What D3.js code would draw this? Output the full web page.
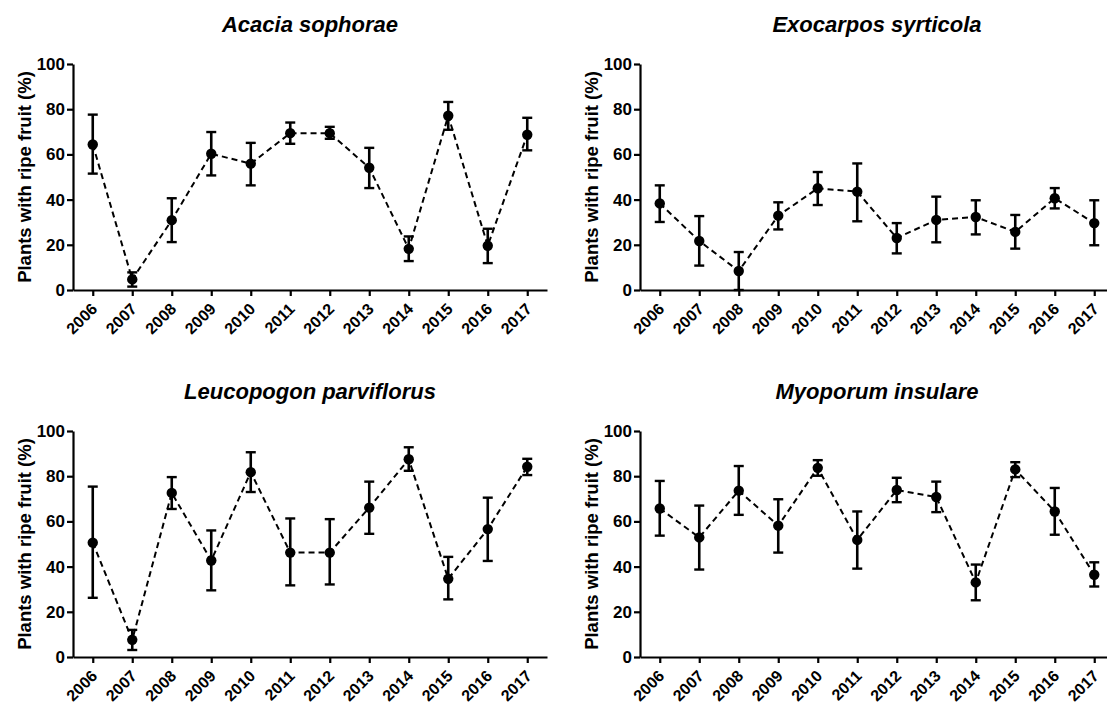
<!DOCTYPE html>
<html><head><meta charset="utf-8">
<script src="https://cdn.jsdelivr.net/npm/d3@7"></script>
<style>
html,body{margin:0;padding:0;background:#fff;}
svg{display:block;}
text{font-family:"Liberation Sans",Arial,Helvetica,sans-serif;font-weight:bold;fill:#000;}
</style></head>
<body>
<svg id="chart" width="1107" height="706"></svg>
<script>
const years = ["2006","2007","2008","2009","2010","2011","2012","2013","2014","2015","2016","2017"];
const yTicks = [0,20,40,60,80,100];
const yLabel = "Plants with ripe fruit (%)";
const species = ["Acacia sophorae","Exocarpos syrticola","Leucopogon parviflorus","Myoporum insulare"];

const acaciaMean  = [64.4, 4.7, 30.9, 60.3, 55.9, 69.4, 69.4, 54.1, 18.2, 77.1, 19.6, 68.7];
const acaciaUpper = [77.6, 7.8, 40.6, 69.9, 65.1, 74.1, 72.2, 62.9, 23.7, 83.2, 27.1, 76.2];
const acaciaLower = [51.5, 1.5, 21.2, 50.7, 46.3, 64.7, 66.9, 45.1, 12.8, 70.9, 11.9, 61.8];

const exoMean  = [38.3, 21.7, 8.4, 32.9, 45.0, 43.5, 23.0, 31.0, 32.3, 25.7, 40.6, 29.6];
const exoUpper = [46.3, 32.7, 16.8, 38.8, 52.2, 56.0, 29.6, 41.3, 39.7, 33.2, 45.1, 39.7];
const exoLower = [30.1, 10.8, 0.0, 26.8, 37.6, 30.4, 16.2, 21.1, 24.6, 18.3, 36.1, 19.8];

const leucoMean  = [50.6, 7.6, 72.6, 42.7, 81.8, 46.2, 46.2, 66.1, 87.5, 34.6, 56.6, 84.2];
const leucoUpper = [75.4, 12.0, 79.6, 56.0, 90.6, 61.3, 61.0, 77.6, 92.8, 44.3, 70.5, 87.7];
const leucoLower = [26.2, 3.1, 65.5, 29.5, 73.0, 31.7, 32.1, 54.5, 82.4, 25.5, 42.5, 80.5];

const myoMean  = [65.7, 52.9, 73.6, 58.1, 83.7, 51.8, 73.9, 70.8, 33.0, 83.0, 64.4, 36.4];
const myoUpper = [77.9, 67.0, 84.5, 69.8, 87.1, 64.4, 79.3, 77.6, 40.9, 86.2, 74.8, 41.9];
const myoLower = [53.7, 38.7, 62.9, 46.2, 80.2, 39.1, 68.5, 64.1, 25.1, 79.6, 54.1, 31.2];

const seriesMean  = [acaciaMean, exoMean, leucoMean, myoMean];
const seriesUpper = [acaciaUpper, exoUpper, leucoUpper, myoUpper];
const seriesLower = [acaciaLower, exoLower, leucoLower, myoLower];

// layout
const plotW = 474, plotH = 226;
const lefts = [73, 640, 73, 640];
const tops  = [64, 64, 431, 431];

const svg = d3.select("#chart");

species.forEach((name, i) => {
  const g = svg.append("g").attr("transform", `translate(${lefts[i]},${tops[i]})`);
  const x = d3.scalePoint().domain(years).range([0, plotW]).padding(0.5);
  const y = d3.scaleLinear().domain([0, 100]).range([plotH, 0]);

  // title
  g.append("text")
    .attr("x", plotW / 2).attr("y", -32)
    .attr("text-anchor", "middle")
    .style("font-size", "22px").style("font-style", "italic")
    .text(name);

  // y label
  g.append("text")
    .attr("transform", `translate(-42,${plotH / 2}) rotate(-90)`)
    .attr("text-anchor", "middle")
    .style("font-size", "18.5px")
    .text(yLabel);

  // y axis
  const ya = g.append("g").call(d3.axisLeft(y).tickValues(yTicks).tickSize(6).tickSizeOuter(0).tickPadding(2));
  ya.select(".domain").attr("stroke-width", 2.2).attr("stroke", "#000");
  ya.selectAll(".tick line").attr("stroke-width", 2.2).attr("stroke", "#000");
  ya.selectAll(".tick text").style("font-size", "17px").style("font-family", "'Liberation Sans',Arial,sans-serif").style("font-weight", "bold").attr("fill", "#000");

  // x axis
  const xa = g.append("g").attr("transform", `translate(0,${plotH})`)
    .call(d3.axisBottom(x).tickSize(6).tickSizeOuter(0));
  xa.select(".domain").attr("stroke-width", 2.2).attr("stroke", "#000");
  xa.selectAll(".tick line").attr("stroke-width", 2.2).attr("stroke", "#000");
  xa.selectAll(".tick text")
    .attr("y", 0).attr("dy", 0)
    .attr("transform", "translate(5,20) rotate(-45)")
    .attr("text-anchor", "end")
    .style("font-size", "16px").style("font-family", "'Liberation Sans',Arial,sans-serif").style("font-weight", "bold").attr("fill", "#000");

  const data = years.map((yr, k) => ({yr, m: seriesMean[i][k], hi: seriesUpper[i][k], lo: seriesLower[i][k]}));

  // dashed line
  g.append("path").datum(data)
    .attr("fill", "none").attr("stroke", "#000").attr("stroke-width", 2)
    .attr("stroke-dasharray", "6,4")
    .attr("d", d3.line().x(d => x(d.yr)).y(d => y(d.m)));

  // error bars
  const eb = g.append("g").selectAll("g").data(data).join("g");
  eb.append("line")
    .attr("x1", d => x(d.yr)).attr("x2", d => x(d.yr))
    .attr("y1", d => y(d.lo)).attr("y2", d => y(d.hi))
    .attr("stroke", "#000").attr("stroke-width", 2.6);
  eb.append("line")
    .attr("x1", d => x(d.yr) - 5).attr("x2", d => x(d.yr) + 5)
    .attr("y1", d => y(d.hi)).attr("y2", d => y(d.hi))
    .attr("stroke", "#000").attr("stroke-width", 2.4);
  eb.append("line")
    .attr("x1", d => x(d.yr) - 5).attr("x2", d => x(d.yr) + 5)
    .attr("y1", d => y(d.lo)).attr("y2", d => y(d.lo))
    .attr("stroke", "#000").attr("stroke-width", 2.4);

  // points
  g.append("g").selectAll("circle").data(data).join("circle")
    .attr("cx", d => x(d.yr)).attr("cy", d => y(d.m)).attr("r", 5.2)
    .attr("fill", "#000");
});
</script>
</body></html>
